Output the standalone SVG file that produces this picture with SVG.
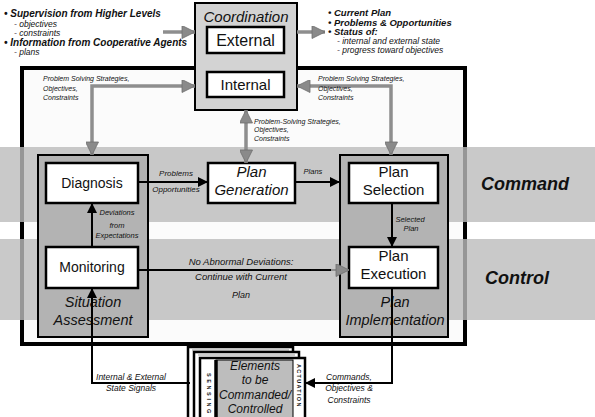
<svg xmlns="http://www.w3.org/2000/svg" width="595" height="417" viewBox="0 0 595 417">
<style>
text{font-family:"Liberation Sans",Arial,sans-serif;fill:#111}
.h{font-weight:bold;font-style:italic;font-size:10px}
.h2{font-weight:bold;font-style:italic;font-size:9.5px}
.s{font-style:italic;font-size:8.5px}
.lb{font-style:italic;font-size:7px}
.lm{font-style:italic;font-size:8.5px;text-anchor:middle}
.node{fill:#fff;stroke:#000;stroke-width:2.5}
.grp{fill:#b3b3b3;stroke:#000;stroke-width:2}
.nl{font-size:14px;text-anchor:middle}
.nn{font-size:15px;text-anchor:middle}
.ni{font-size:15px;font-style:italic;text-anchor:middle}
.ng{font-size:14.5px;font-style:italic;text-anchor:middle}
.band{fill:#bcbcbc;opacity:0.8}
.blk{stroke:#000;stroke-width:2;fill:none}
.gry{stroke:#8e8e8e;stroke-width:3.5;fill:none}
.card{fill:#fff;stroke:#000;stroke-width:2.5}
.vt{font-size:5.5px;font-weight:bold}
</style>
<defs>
<marker id="ab" viewBox="0 0 10 10" refX="10" refY="5" markerUnits="userSpaceOnUse" markerWidth="13" markerHeight="10" orient="auto-start-reverse">
<path d="M0,0 L10,5 L0,10 z" fill="#000"/>
</marker>
<marker id="ag" viewBox="0 0 10 10" refX="10" refY="5" markerUnits="userSpaceOnUse" markerWidth="17" markerHeight="13" orient="auto-start-reverse">
<path d="M0,0 L10,5 L0,10 z" fill="#8a8a8a" stroke="#6e6e6e" stroke-width="0.6"/>
</marker>
</defs>

<rect width="595" height="417" fill="#fff"/>

<!-- outer frame of the agent -->
<rect id="frame" x="22" y="68" width="443" height="276" fill="#fbfbfb" stroke="#000" stroke-width="4"/>

<!-- Command / Control layers -->
<g id="layers">
<rect class="band" x="0" y="147" width="595" height="75"/>
<rect class="band" x="0" y="239" width="595" height="81"/>
<text x="481" y="190" style="font-size:18px;font-weight:bold;font-style:italic">Command</text>
<text x="485" y="284" style="font-size:18px;font-weight:bold;font-style:italic">Control</text>
</g>

<!-- external inputs and outputs -->
<g id="inputs">
<text class="h" x="4" y="17">• Supervision from Higher Levels</text>
<text class="s" x="14" y="27">- objectives</text>
<text class="s" x="14" y="36">- constraints</text>
<text class="h" x="4" y="46">• Information from Cooperative Agents</text>
<text class="s" x="14" y="55">- plans</text>
</g>
<g id="outputs">
<text class="h2" x="328" y="16">• Current Plan</text>
<text class="h2" x="328" y="25.5">• Problems &amp; Opportunities</text>
<text class="h2" x="328" y="35">• Status of:</text>
<text class="s" x="337" y="44">- internal and external state</text>
<text class="s" x="337" y="52.5">- progress toward objectives</text>
</g>

<!-- coordination -->
<g id="coordination">
<rect x="195" y="3" width="102" height="107" fill="#d3d3d3" stroke="#000" stroke-width="2"/>
<text class="ni" x="246" y="22">Coordination</text>
</g>
<g id="external">
<rect class="node" x="207" y="27" width="77" height="26"/>
<text class="nl" x="245.5" y="46" style="font-size:16px">External</text>
</g>
<g id="internal">
<rect class="node" x="207" y="72" width="77" height="25"/>
<text class="nl" x="245.5" y="90" style="font-size:15px">Internal</text>
</g>

<!-- situation assessment -->
<g id="situation-assessment">
<rect class="grp" x="38" y="155" width="110" height="182"/>
<text class="ng" x="93" y="307">Situation</text>
<text class="ng" x="93" y="325">Assessment</text>
</g>
<g id="diagnosis">
<rect class="node" x="46" y="163" width="92" height="40"/>
<text class="nl" x="92" y="188">Diagnosis</text>
</g>
<g id="monitoring">
<rect class="node" x="46" y="247" width="92" height="41"/>
<text class="nl" x="92" y="272">Monitoring</text>
</g>

<g id="plan-generation">
<rect class="node" x="208" y="163" width="87" height="40"/>
<text class="ni" x="251.5" y="177">Plan</text>
<text class="ni" x="251.5" y="195">Generation</text>
</g>

<!-- plan implementation -->
<g id="plan-implementation">
<rect class="grp" x="340" y="155" width="108" height="182"/>
<text class="ng" x="395" y="307">Plan</text>
<text class="ng" x="395" y="325">Implementation</text>
</g>
<g id="plan-selection">
<rect class="node" x="349" y="163" width="89" height="40"/>
<text class="nn" x="393.5" y="177">Plan</text>
<text class="nn" x="393.5" y="195">Selection</text>
</g>
<g id="plan-execution">
<rect class="node" x="349" y="247" width="89" height="41"/>
<text class="nn" x="393.5" y="261">Plan</text>
<text class="nn" x="393.5" y="279">Execution</text>
</g>

<!-- controlled elements -->
<g id="elements">
<rect class="card" x="188" y="347" width="105" height="80"/>
<line x1="192" y1="350" x2="289" y2="350" stroke="#999" stroke-width="1.2"/>
<rect class="card" x="194" y="352" width="105" height="80"/>
<line x1="198" y1="355" x2="295" y2="355" stroke="#999" stroke-width="1.2"/>
<rect class="card" x="200" y="358" width="105" height="70"/>
<rect x="216" y="360" width="77" height="60" fill="#bdbdbd" stroke="#000" stroke-width="1"/>
<line x1="216" y1="360" x2="216" y2="417" stroke="#000" stroke-width="3.5"/>
<text x="255" y="370" class="ni" style="font-size:12px">Elements</text>
<text x="255" y="384" class="ni" style="font-size:12px">to be</text>
<text x="255" y="399" class="ni" style="font-size:12px">Commanded/</text>
<text x="255" y="413" class="ni" style="font-size:12px">Controlled</text>
<text class="vt" transform="translate(207,373) rotate(90)" letter-spacing="2.6">SENSING</text>
<text class="vt" transform="translate(297,364) rotate(90)" letter-spacing="1.3">ACTUATION</text>
</g>

<!-- connectors -->
<g id="connectors">
<line class="gry" x1="163" y1="32" x2="195" y2="32" marker-end="url(#ag)"/>
<line class="gry" x1="297" y1="32" x2="325" y2="32" marker-end="url(#ag)"/>
<polyline class="gry" points="195,86 92,86 92,155" marker-start="url(#ag)" marker-end="url(#ag)"/>
<polyline class="gry" points="297,86 391,86 391,155" marker-start="url(#ag)" marker-end="url(#ag)"/>
<line class="gry" x1="246" y1="110" x2="246" y2="163" marker-start="url(#ag)" marker-end="url(#ag)"/>
<line class="blk" x1="138" y1="182" x2="208" y2="182" marker-end="url(#ab)"/>
<line class="blk" x1="295" y1="182" x2="340" y2="182" marker-end="url(#ab)"/>
<line class="blk" x1="392" y1="203" x2="392" y2="247" marker-end="url(#ab)"/>
<line class="blk" x1="92" y1="247" x2="92" y2="203" marker-end="url(#ab)"/>
<line class="blk" x1="138" y1="270" x2="333" y2="270"/>
<line class="gry" x1="331" y1="270" x2="349" y2="270" style="stroke-width:2" marker-end="url(#ag)"/>
<polyline class="blk" points="190,383 92,383 92,288" marker-end="url(#ab)"/>
<polyline class="blk" points="392,288 392,383 305,383" marker-end="url(#ab)"/>
</g>

<!-- connector labels -->
<g id="labels">
<text class="lb" x="43" y="81">Problem Solving Strategies,</text>
<text class="lb" x="43" y="91">Objectives,</text>
<text class="lb" x="43" y="100">Constraints</text>
<text class="lb" x="318" y="81">Problem Solving Strategies,</text>
<text class="lb" x="318" y="91">Objectives,</text>
<text class="lb" x="318" y="100">Constraints</text>
<text class="lb" x="254" y="124">Problem-Solving Strategies,</text>
<text class="lb" x="254" y="132">Objectives,</text>
<text class="lb" x="254" y="141">Constraints</text>
<text class="lm" x="176" y="176" style="font-size:8px">Problems</text>
<text class="lm" x="176" y="192" style="font-size:8px">Opportunities</text>
<text class="lm" x="313" y="174" style="font-size:7.5px">Plans</text>
<text class="lm" x="410" y="222" style="font-size:7.5px">Selected</text>
<text class="lm" x="411" y="231" style="font-size:7.5px">Plan</text>
<text class="lm" x="117" y="215" style="font-size:7.5px">Deviations</text>
<text class="lm" x="117" y="228" style="font-size:7.5px">from</text>
<text class="lm" x="117" y="238" style="font-size:7.5px">Expectations</text>
<text class="lm" x="241" y="265" style="font-size:9.5px">No Abnormal Deviations:</text>
<text class="lm" x="241" y="280" style="font-size:9.5px">Continue with Current</text>
<text class="lm" x="241" y="298" style="font-size:9px">Plan</text>
<text class="lm" x="131" y="380">Internal &amp; External</text>
<text class="lm" x="131" y="391">State Signals</text>
<text class="lm" x="349" y="380">Commands,</text>
<text class="lm" x="349" y="391">Objectives &amp;</text>
<text class="lm" x="349" y="403">Constraints</text>
</g>
</svg>
